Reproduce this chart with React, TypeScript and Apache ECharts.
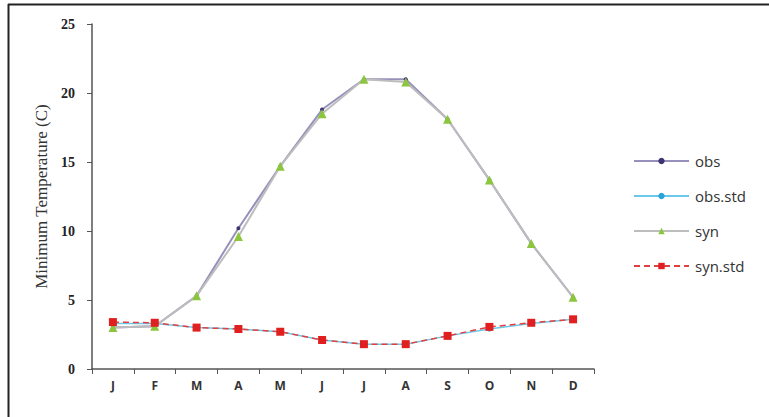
import React, { useEffect, useRef } from "react";
import * as echarts from "echarts";

const months = ["J", "F", "M", "A", "M", "J", "J", "A", "S", "O", "N", "D"];
const obs = [3.0, 3.1, 5.3, 10.2, 14.7, 18.8, 21.0, 21.0, 18.1, 13.7, 9.1, 5.2];
const obsStd = [3.3, 3.3, 3.0, 2.9, 2.7, 2.1, 1.8, 1.8, 2.4, 2.9, 3.3, 3.6];
const syn = [3.0, 3.1, 5.3, 9.6, 14.7, 18.5, 21.0, 20.8, 18.1, 13.7, 9.1, 5.2];
const synStd = [3.4, 3.35, 3.0, 2.9, 2.7, 2.1, 1.8, 1.8, 2.4, 3.05, 3.35, 3.6];
const yTicks = { min: 0, max: 25, interval: 5 };

export default function App() {
  const ref = useRef<HTMLDivElement>(null);
  useEffect(() => {
    if (!ref.current) return;
    const chart = echarts.init(ref.current, undefined, { renderer: "svg" });
    chart.setOption({
      animation: false,
      backgroundColor: "#ffffff",
      grid: { left: 92, top: 24, right: 175, bottom: 48 },
      graphic: [
        { type: "line", shape: { x1: 8, y1: 4.5, x2: 769, y2: 4.5 }, style: { stroke: "#222", lineWidth: 2 } },
        { type: "line", shape: { x1: 8.5, y1: 4, x2: 8.5, y2: 417 }, style: { stroke: "#222", lineWidth: 2 } },
      ],
      legend: {
        orient: "vertical",
        left: 633,
        top: 152,
        padding: 0,
        itemWidth: 55,
        itemHeight: 8,
        itemGap: 17,
        textStyle: { fontFamily: "Open Sans", fontSize: 15, color: "#333", padding: [0, 0, 0, 1], lineHeight: 18 },
        data: ["obs", "obs.std", "syn", "syn.std"],
      },
      xAxis: {
        type: "category",
        data: months,
        boundaryGap: true,
        axisLine: { lineStyle: { color: "#555", width: 1.5 } },
        axisTick: { show: true, interval: 0, lineStyle: { color: "#555" }, length: 5 },
        axisLabel: { interval: 0, fontFamily: "Open Sans", fontWeight: "bold", fontSize: 12, color: "#333", margin: 10 },
      },
      yAxis: {
        type: "value",
        min: yTicks.min,
        max: yTicks.max,
        interval: yTicks.interval,
        name: "Minimum Temperature (C)",
        nameLocation: "middle",
        nameRotate: 90,
        nameGap: 50,
        nameTextStyle: { fontFamily: "Liberation Serif", fontSize: 17, color: "#333", padding: [0, 0, -8, 0] },
        splitLine: { show: false },
        axisLine: { show: true, lineStyle: { color: "#555", width: 1.5 } },
        axisTick: { show: true, length: 5, lineStyle: { color: "#555" } },
        axisLabel: { fontFamily: "Liberation Serif", fontWeight: "bold", fontSize: 14, color: "#222", margin: 17 },
      },
      series: [
        {
          name: "obs",
          type: "line",
          data: obs,
          symbol: "circle",
          symbolSize: 4,
          itemStyle: { color: "#3e3470" },
          lineStyle: { color: "#9890bc", width: 2 },
        },
        {
          name: "obs.std",
          type: "line",
          data: obsStd,
          symbol: "circle",
          symbolSize: 5,
          itemStyle: { color: "#2aa4d8" },
          lineStyle: { color: "#6cc8e8", width: 1.5 },
        },
        {
          name: "syn",
          type: "line",
          data: syn,
          symbol: "triangle",
          symbolSize: 9,
          itemStyle: { color: "#8cc63f" },
          lineStyle: { color: "#bdbdbd", width: 2 },
        },
        {
          name: "syn.std",
          type: "line",
          data: synStd,
          symbol: "rect",
          symbolSize: 8,
          itemStyle: { color: "#e02020" },
          lineStyle: { color: "#e04040", width: 1.5, type: [6, 4] },
        },
      ],
    });
    return () => chart.dispose();
  }, []);
  return (
    <div
      ref={ref}
      style={{ position: "absolute", left: 0, top: 0, width: 769, height: 417 }}
    />
  );
}
